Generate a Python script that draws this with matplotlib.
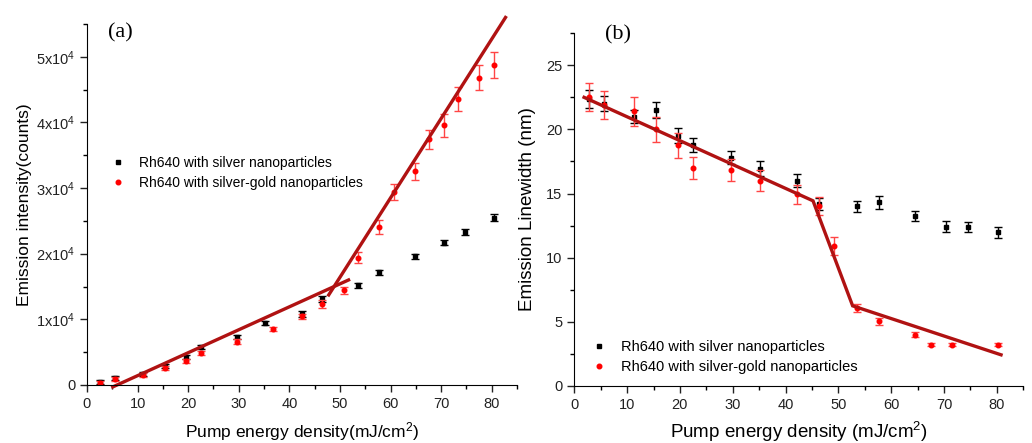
# Rh640 lasing: emission intensity and linewidth vs pump energy density
import matplotlib
matplotlib.use('Agg')
from matplotlib import pyplot as plt
from matplotlib.ticker import MultipleLocator, FuncFormatter

plt.rcParams['font.family'] = ['Liberation Sans', 'DejaVu Sans']
plt.rcParams['mathtext.fontset'] = 'custom'
plt.rcParams['mathtext.rm'] = 'Liberation Sans'
plt.rcParams['mathtext.it'] = 'Liberation Sans:italic'

# ---- panel (a): emission intensity (counts) ----
a_silver_x = [2.6, 5.6, 11.1, 15.5, 19.6, 22.5, 29.6, 35.2, 42.4, 46.5, 53.6, 57.8, 64.8, 70.5, 74.8, 80.4]
a_silver_y = [500, 1100, 1700, 2900, 4300, 5850, 7300, 9400, 10800, 13100, 15200, 17150, 19600, 21700, 23300, 25500]
a_silver_err = [300, 300, 300, 300, 300, 300, 300, 300, 400, 400, 400, 400, 400, 450, 450, 500]

a_sg_x = [2.6, 5.6, 11.1, 15.5, 19.6, 22.5, 29.6, 36.7, 42.4, 46.5, 50.7, 53.6, 57.8, 60.6, 64.8, 67.6, 70.5, 73.3, 77.5, 80.4]
a_sg_y = [350, 870, 1530, 2600, 3660, 4930, 6600, 8500, 10430, 12300, 14400, 19350, 24100, 29350, 32550, 37400, 39550, 43500, 46800, 48700]
a_sg_err = [300, 300, 300, 300, 300, 300, 350, 350, 450, 600, 600, 840, 1100, 1220, 1330, 1500, 1700, 1830, 1900, 1960]

a_fit1_x = [4.8, 52.0]
a_fit1_y = [-400, 16100]
a_fit2_x = [47.6, 82.9]
a_fit2_y = [13500, 56200]

# ---- panel (b): emission linewidth (nm) ----
b_silver_x = [2.8, 5.7, 11.3, 15.4, 19.7, 22.4, 29.6, 35.2, 42.2, 46.4, 53.5, 57.7, 64.6, 70.3, 74.6, 80.2]
b_silver_y = [22.4, 22.0, 21.0, 21.5, 19.5, 18.75, 17.8, 16.95, 16.0, 14.2, 14.0, 14.3, 13.26, 12.4, 12.4, 11.96]
b_silver_err = [0.7, 0.6, 0.5, 0.65, 0.58, 0.55, 0.52, 0.55, 0.52, 0.45, 0.43, 0.5, 0.4, 0.42, 0.4, 0.4]

b_sg_x = [2.8, 5.7, 11.3, 15.5, 19.7, 22.4, 29.6, 35.2, 42.2, 46.4, 49.1, 53.5, 57.7, 64.6, 67.5, 71.6, 80.2]
b_sg_y = [22.5, 21.9, 21.4, 20.0, 18.75, 17.0, 16.85, 16.0, 14.95, 14.06, 10.94, 6.06, 5.02, 3.98, 3.2, 3.2, 3.2]
b_sg_err = [1.1, 1.1, 1.1, 1.0, 1.0, 0.86, 0.87, 0.8, 0.74, 0.7, 0.7, 0.33, 0.3, 0.2, 0.12, 0.12, 0.12]

b_fit_x = [1.85, 45.2, 52.7, 80.8]
b_fit_y = [22.5, 14.43, 6.24, 2.42]

labels = ['Rh640 with silver nanoparticles', 'Rh640 with silver-gold nanoparticles']

fit_color = '#b01212'
err_red = '#ff4545'


def style_axes(ax, xmax, ymax, xmajor, xminor, ymajor, yminor):
    ax.set_xlim(0, xmax)
    ax.set_ylim(0, ymax)
    ax.spines['top'].set_visible(False)
    ax.spines['right'].set_visible(False)
    ax.xaxis.set_major_locator(MultipleLocator(xmajor))
    ax.xaxis.set_minor_locator(MultipleLocator(xminor))
    ax.yaxis.set_major_locator(MultipleLocator(ymajor))
    ax.yaxis.set_minor_locator(MultipleLocator(yminor))
    ax.tick_params(which='major', direction='out', length=5, width=1, labelsize=10.5, colors='#222222')
    ax.tick_params(which='minor', direction='out', length=3, width=1)


def draw_points(ax, xs, ys, errs, marker, color, ecolor, ms):
    ax.errorbar(xs, ys, yerr=errs, fmt='none', ecolor=ecolor, elinewidth=1, capsize=2.6, capthick=1)
    ax.plot(xs, ys, linestyle='none', marker=marker, color=color, markersize=ms)


fig = plt.figure(figsize=(10.32, 4.43), dpi=100)
ax1 = fig.add_axes([0.0843, 0.131, 0.4167, 0.815])
ax2 = fig.add_axes([0.5565, 0.129, 0.435, 0.796])

# panel (a)
style_axes(ax1, 85, 55000, 10, 5, 10000, 5000)
draw_points(ax1, a_silver_x, a_silver_y, a_silver_err, 's', 'black', 'black', 3)
draw_points(ax1, a_sg_x, a_sg_y, a_sg_err, 'o', 'red', err_red, 3.3)
ax1.plot(a_fit1_x, a_fit1_y, color=fit_color, lw=2.4, clip_on=False, solid_capstyle='butt')
ax1.plot(a_fit2_x, a_fit2_y, color=fit_color, lw=2.4, clip_on=False, solid_capstyle='butt')
ax1.yaxis.set_major_formatter(FuncFormatter(
    lambda v, p: '0' if v == 0 else '%dx10$^{4}$' % round(v / 1e4)))
ax1.set_xlabel('Pump energy density(mJ/cm$^{2}$)', fontsize=12.5, labelpad=7)
ax1.set_ylabel('Emission intensity(counts)', fontsize=12.5, labelpad=3)
ax1.plot([], [], 's', color='black', markersize=3, label=labels[0])
ax1.plot([], [], 'o', color='red', markersize=3.3, label=labels[1])
ax1.legend(loc='center left', bbox_to_anchor=(0.057, 0.587), frameon=False, fontsize=10,
           handlelength=1.0, handletextpad=1.0, borderpad=0, borderaxespad=0, labelspacing=0.4)

# panel (b)
style_axes(ax2, 85, 27.5, 10, 5, 5, 2.5)
draw_points(ax2, b_silver_x, b_silver_y, b_silver_err, 's', 'black', 'black', 3)
draw_points(ax2, b_sg_x, b_sg_y, b_sg_err, 'o', 'red', err_red, 3.3)
ax2.plot(b_fit_x, b_fit_y, color=fit_color, lw=2.4, solid_joinstyle='miter')
ax2.set_xlabel('Pump energy density (mJ/cm$^{2}$)', fontsize=13.5, labelpad=6)
ax2.set_ylabel('Emission Linewidth (nm)', fontsize=13.5, labelpad=7)
ax2.plot([], [], 's', color='black', markersize=3, label=labels[0])
ax2.plot([], [], 'o', color='red', markersize=3.3, label=labels[1])
ax2.legend(loc='center left', bbox_to_anchor=(0.039, 0.082), frameon=False, fontsize=10.5,
           handlelength=1.0, handletextpad=1.0, borderpad=0, borderaxespad=0, labelspacing=0.4)

fig.text(0.117, 0.925, '(a)', family=['Liberation Serif', 'DejaVu Serif'], fontsize=16, ha='center', va='center')
fig.text(0.599, 0.921, '(b)', family=['Liberation Serif', 'DejaVu Serif'], fontsize=16, ha='center', va='center')

fig.savefig('out.png', dpi=100)
